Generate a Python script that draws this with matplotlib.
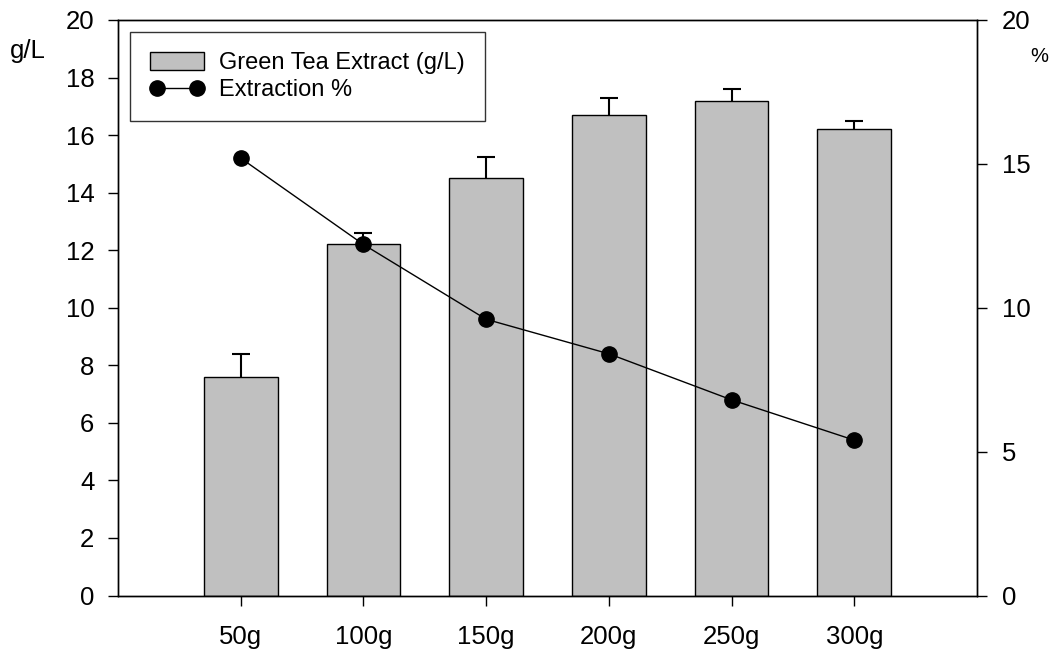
import matplotlib.pyplot as plt
import numpy as np

plt.rcParams['font.family'] = ['Liberation Sans', 'DejaVu Sans']

# Tea leaf dose per batch and measurements
doses = ['50g', '100g', '150g', '200g', '250g', '300g']
extract_gl = [7.6, 12.2, 14.5, 16.7, 17.2, 16.2]
extract_err = [0.8, 0.4, 0.75, 0.6, 0.4, 0.3]
extraction_pct = [15.2, 12.2, 9.6, 8.4, 6.8, 5.4]

x = np.arange(len(doses))

fig = plt.figure(figsize=(10.61, 6.49), dpi=100)
ax = fig.add_axes([0.1112, 0.0824, 0.8096, 0.8868])
ax2 = ax.twinx()

# Bars with upper error bars only
bars = ax.bar(x, extract_gl, width=0.6, color='#c0c0c0', edgecolor='black',
              linewidth=1.0, label='Green Tea Extract (g/L)', zorder=2)
eb = ax.errorbar(x, extract_gl, yerr=[np.zeros(len(x)), extract_err], fmt='none',
                 ecolor='black', elinewidth=1.5, capsize=6.5, capthick=1.5,
                 zorder=3)
# hide the caps sitting on the bar tops
eb[1][0].set_visible(False)

# Extraction percentage on the right axis
line, = ax2.plot(x, extraction_pct, color='black', linewidth=1.0, marker='o',
                 markersize=11, label='Extraction %')

ax.set_xlim(-1, 6)
ax.set_ylim(0, 20)
ax.set_yticks(np.arange(0, 21, 2))
ax2.set_ylim(0, 20)
ax2.set_yticks([0, 5, 10, 15, 20])
ax.set_xticks(x)
ax.set_xticklabels(doses)

ax.tick_params(axis='y', direction='out', length=7, width=1, labelsize=18.5, pad=10)
ax.tick_params(axis='x', direction='out', length=7, width=1, labelsize=18.5, pad=14)
ax2.tick_params(axis='y', direction='out', length=7, width=1, labelsize=18.5, pad=11)

for a in (ax, ax2):
    for s in a.spines.values():
        s.set_linewidth(1.0)

fig.text(10 / 1061, 1 - 51 / 649, 'g/L', fontsize=18.5, va='center', ha='left')
fig.text(1039 / 1061, 1 - 57 / 649, '%', fontsize=14.5, va='center', ha='center')

leg = ax.legend([bars, line], ['Green Tea Extract (g/L)', 'Extraction %'],
                loc='upper left', bbox_to_anchor=(0.014, 0.979), numpoints=2,
                fontsize=17, frameon=True, fancybox=False, edgecolor='black',
                borderpad=0.85, handlelength=2.3, handleheight=0.8,
                handletextpad=0.63, labelspacing=0.2, borderaxespad=0)
leg.get_frame().set_linewidth(1.0)
ax.set_zorder(ax2.get_zorder() - 1)
ax.patch.set_visible(False)
leg.remove()
ax2.add_artist(leg)

fig.savefig('out.png', dpi=100)
